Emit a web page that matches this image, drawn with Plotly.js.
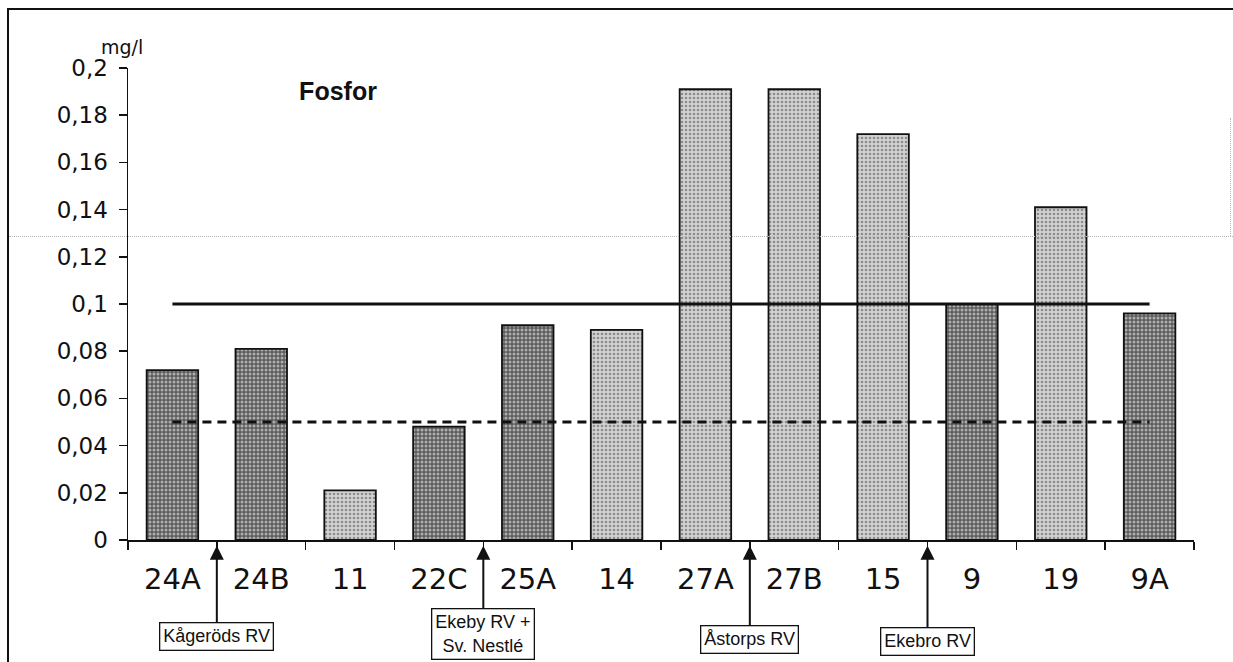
<!DOCTYPE html>
<html>
<head>
<meta charset="utf-8">
<script src="https://cdn.plot.ly/plotly-3.0.1.min.js"></script>
<style>
  html, body { margin: 0; padding: 0; background: #fff; }
  #wrap { position: relative; width: 1233px; height: 662px; overflow: hidden; }
  #chart { position: absolute; left: 0; top: 0; width: 1233px; height: 662px; }
  .frame { position: absolute; left: 7px; top: 8px; width: 1240px; height: 670px;
           border-left: 2px solid #111; border-top: 2px solid #111; pointer-events: none; }
  .fold-h { position: absolute; left: 9px; top: 236px; width: 1224px; height: 0;
            border-top: 1px dotted #b5b5b5; pointer-events: none; }
  .fold-v { position: absolute; left: 1230px; top: 118px; width: 0; height: 118px;
            border-left: 1px dotted #b5b5b5; pointer-events: none; }
</style>
</head>
<body>
<div id="wrap">
  <div id="chart"></div>
  <div class="fold-h"></div>
  <div class="fold-v"></div>
  <div class="frame"></div>
</div>
<script>
// Sampling stations along the river, upstream to downstream
const stations = ['24A', '24B', '11', '22C', '25A', '14', '27A', '27B', '15', '9', '19', '9A'];
// Total phosphorus, mg/l
const phosphorus = [0.072, 0.081, 0.021, 0.048, 0.091, 0.089, 0.191, 0.191, 0.172, 0.100, 0.141, 0.096];
// Shading group of each station's bar
const stationShade = ['dark', 'dark', 'light', 'dark', 'dark', 'light', 'light', 'light', 'light', 'dark', 'light', 'dark'];

// Reference levels, mg/l
const limitHigh = 0.1;
const limitLow = 0.05;

// Y axis ticks (Swedish decimal comma)
const yTickVals = [0, 0.02, 0.04, 0.06, 0.08, 0.1, 0.12, 0.14, 0.16, 0.18, 0.2];
const yTickText = ['0', '0,02', '0,04', '0,06', '0,08', '0,1', '0,12', '0,14', '0,16', '0,18', '0,2'];

// Treatment plant outlets, placed between a station and the next one
const outletNames = ['Kågeröds RV', 'Ekeby RV +<br>Sv. Nestlé', 'Åstorps RV', 'Ekebro RV'];
const outletAfter = ['24A', '22C', '27A', '15'];

const shadeStyle = {
  dark:  { bg: '#5c5c5c', fg: '#050505', solidity: 0.45 },
  light: { bg: '#d2d2d2', fg: '#444444', solidity: 0.35 }
};

const bars = {
  type: 'bar',
  x: stations,
  y: phosphorus,
  marker: {
    color: stationShade.map(s => shadeStyle[s].bg),
    line: { color: '#111', width: 1.8 },
    pattern: {
      shape: '.',
      size: 4,
      fgcolor: stationShade.map(s => shadeStyle[s].fg),
      solidity: stationShade.map(s => shadeStyle[s].solidity),
      fillmode: 'overlay'
    }
  },
  hoverinfo: 'skip',
  showlegend: false
};

const highLine = {
  type: 'scatter', mode: 'lines',
  x: stations, y: stations.map(() => limitHigh),
  line: { color: '#111', width: 3 },
  hoverinfo: 'skip', showlegend: false
};

const lowLine = {
  type: 'scatter', mode: 'lines',
  x: stations, y: stations.map(() => limitLow),
  line: { color: '#111', width: 3, dash: '9px,6px' },
  hoverinfo: 'skip', showlegend: false
};

const boxTextFont = { family: 'Liberation Sans, Arial, sans-serif', size: 18, color: '#111' };
const outletBoxOffsets = [91, 88, 94, 96];

const outletNotes = outletNames.map((name, i) => ({
  xref: 'x', yref: 'paper',
  x: stations.indexOf(outletAfter[i]) + 0.5,
  y: -0.012,
  text: name,
  showarrow: true,
  arrowhead: 2, arrowsize: 1.4, arrowwidth: 2, arrowcolor: '#111',
  ax: 0, ay: outletBoxOffsets[i],
  font: boxTextFont,
  bgcolor: '#fff', bordercolor: '#111', borderwidth: 1.3, borderpad: 3
}));

const layout = {
  width: 1233, height: 662,
  margin: { l: 128, r: 39, t: 68, b: 122, pad: 0 },
  paper_bgcolor: '#fff', plot_bgcolor: '#fff',
  bargap: 0.42,
  title: {
    text: '<b>Fosfor</b>',
    font: { family: 'Liberation Sans, Arial, sans-serif', size: 25, color: '#111' },
    xref: 'paper', yref: 'paper', x: 0.197, y: 0.951, xanchor: 'center', yanchor: 'middle'
  },
  xaxis: {
    type: 'category',
    range: [-0.5, stations.length - 0.5], autorange: false,
    tickson: 'boundaries',
    ticks: 'outside', ticklen: 8, tickwidth: 1.5, tickcolor: '#111',
    showline: true, linecolor: '#111', linewidth: 1.5,
    showgrid: false, zeroline: false,
    tickfont: { family: 'DejaVu Sans, sans-serif', size: 29, color: '#111' },
    ticklabelstandoff: 13
  },
  yaxis: {
    range: [0, 0.2], autorange: false,
    tickvals: yTickVals, ticktext: yTickText,
    ticks: 'outside', ticklen: 8, tickwidth: 1.5, tickcolor: '#111',
    showline: true, linecolor: '#111', linewidth: 1.5,
    showgrid: false, zeroline: false,
    tickfont: { family: 'DejaVu Sans, sans-serif', size: 23, color: '#111' },
    ticklabelstandoff: 6
  },
  annotations: [
    {
      xref: 'paper', yref: 'paper', x: 0.016, y: 1.044,
      xanchor: 'right', yanchor: 'middle', showarrow: false,
      text: 'mg/l',
      font: { family: 'DejaVu Sans, sans-serif', size: 19, color: '#111' }
    }
  ].concat(outletNotes)
};

Plotly.newPlot('chart', [bars, highLine, lowLine], layout, { staticPlot: true, displayModeBar: false });
</script>
</body>
</html>
